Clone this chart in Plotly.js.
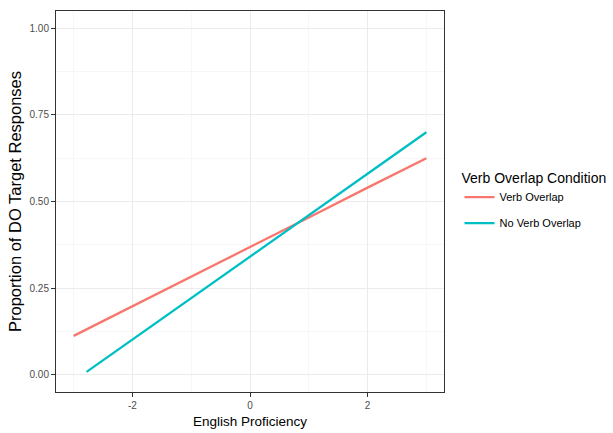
<!DOCTYPE html>
<html>
<head>
<meta charset="utf-8">
<script src="https://cdn.plot.ly/plotly-3.0.1.min.js"></script>
<style>html,body{margin:0;padding:0;background:#fff;}#chart{width:613px;height:433px;}</style>
</head>
<body>
<div id="chart"></div>
<script>
var verbOverlapX = [-3, -2, -1, 0, 1, 2, 3];
var verbOverlapY = [0.112, 0.197, 0.283, 0.368, 0.454, 0.540, 0.625];
var noVerbOverlapX = [-2.78, -2, -1, 0, 1, 2, 3];
var noVerbOverlapY = [0.008, 0.101, 0.221, 0.341, 0.460, 0.580, 0.700];
var seriesNames = ["Verb Overlap", "No Verb Overlap"];
var xTickVals = [-2, 0, 2];
var yTickVals = [0, 0.25, 0.5, 0.75, 1];
var yTickText = ["0.00", "0.25", "0.50", "0.75", "1.00"];

var font = "Liberation Sans, Arial, sans-serif";
var traces = [
  {x: verbOverlapX, y: verbOverlapY, name: seriesNames[0], legendgroup: "a", mode: "lines", type: "scatter",
   line: {color: "#F8766D", width: 2.3}},
  {x: noVerbOverlapX, y: noVerbOverlapY, name: seriesNames[1], legendgroup: "b", mode: "lines", type: "scatter",
   line: {color: "#00BFC4", width: 2.3}}
];
var layout = {
  width: 613, height: 433,
  margin: {l: 56, r: 169, t: 11, b: 41, pad: 0, autoexpand: false},
  paper_bgcolor: "#fff", plot_bgcolor: "#fff",
  font: {family: font},
  showlegend: true,
  xaxis: {
    range: [-3.3, 3.3], tickvals: xTickVals, ticktext: ["-2", "0", "2"],
    ticks: "outside", ticklen: 4, tickcolor: "#333", tickwidth: 1,
    tickfont: {size: 10, color: "#4D4D4D"},
    showgrid: true, gridcolor: "#EBEBEB", gridwidth: 1,
    minor: {tickvals: [-3, -1, 1, 3], showgrid: true, gridcolor: "#F2F2F2", gridwidth: 0.6, ticks: ""},
    zeroline: false, showline: true, linecolor: "#333", linewidth: 1, mirror: true,
    title: {text: "English Proficiency", font: {size: 13.5, color: "#000"}, standoff: 6}
  },
  yaxis: {
    range: [-0.05, 1.05], tickvals: yTickVals, ticktext: yTickText,
    ticks: "outside", ticklen: 4, tickcolor: "#333", tickwidth: 1,
    tickfont: {size: 10, color: "#4D4D4D"},
    showgrid: true, gridcolor: "#EBEBEB", gridwidth: 1,
    minor: {tickvals: [0.125, 0.375, 0.625, 0.875], showgrid: true, gridcolor: "#F2F2F2", gridwidth: 0.6, ticks: ""},
    zeroline: false, showline: true, linecolor: "#333", linewidth: 1, mirror: true,
    title: {text: "Proportion of DO Target Responses", font: {size: 16.5, color: "#000"}, standoff: 3}
  },
  legend: {
    x: 1.04, xanchor: "left", y: 0.5, yanchor: "middle",
    title: {text: "Verb Overlap Condition", font: {size: 14, color: "#000"}},
    font: {size: 11, color: "#000"},
    traceorder: "grouped",
    tracegroupgap: 7, itemwidth: 30
  }
};
Plotly.newPlot("chart", traces, layout, {displayModeBar: false, staticPlot: true});
</script>
</body>
</html>
